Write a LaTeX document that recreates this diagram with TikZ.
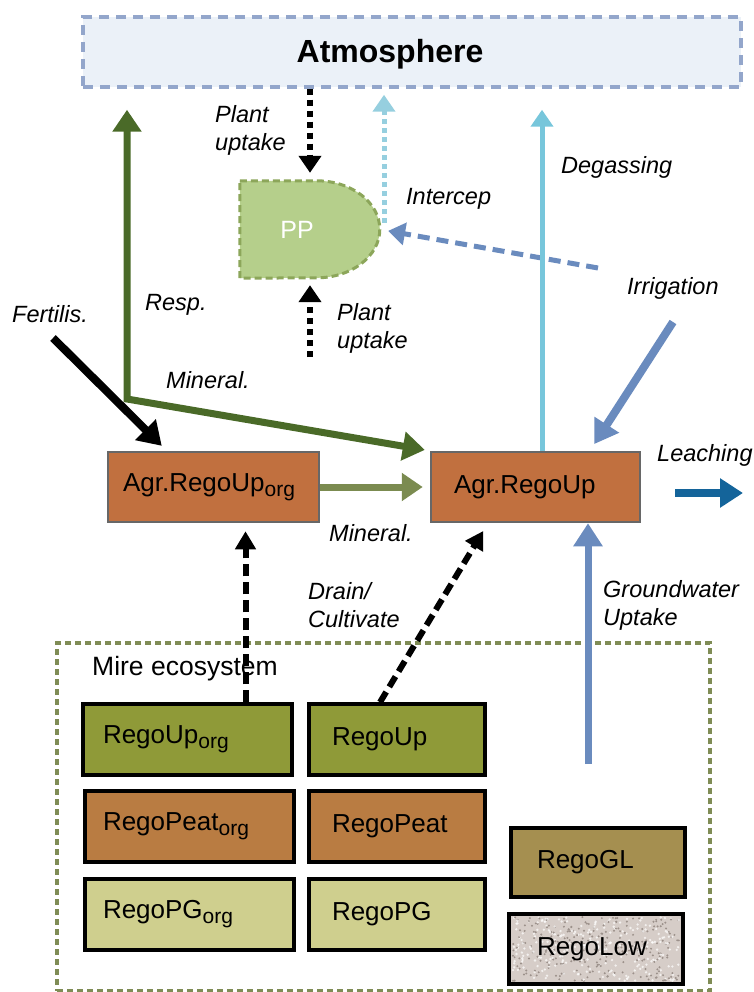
\documentclass[tikz,border=0pt]{standalone}
\usepackage{fontspec}
\setmainfont{Liberation Sans}
\usetikzlibrary{arrows.meta,positioning,calc,backgrounds}
\definecolor{rg-atmfill}{HTML}{EBF1F8}
\definecolor{rg-atmline}{HTML}{93A6CB}
\definecolor{rg-ppfill}{HTML}{B5CF8B}
\definecolor{rg-ppline}{HTML}{8CA65A}
\definecolor{rg-agr}{HTML}{C1703F}
\definecolor{rg-agrline}{HTML}{676767}
\definecolor{rg-dkgreen}{HTML}{4A6A28}
\definecolor{rg-olive}{HTML}{7B8B50}
\definecolor{rg-aqua}{HTML}{77C6DB}
\definecolor{rg-aqualt}{HTML}{96CFDF}
\definecolor{rg-steel}{HTML}{6A8BBE}
\definecolor{rg-leach}{HTML}{14649A}
\definecolor{rg-up}{HTML}{8F9A38}
\definecolor{rg-peat}{HTML}{B97C42}
\definecolor{rg-pg}{HTML}{CFCF8E}
\definecolor{rg-gl}{HTML}{A58F50}
\definecolor{rg-low}{HTML}{D6CDC8}
\definecolor{rg-speck}{HTML}{9C918B}
\definecolor{rg-mire}{HTML}{7F8C55}
\newcommand{\subidx}[1]{\raisebox{-5pt}{\fontsize{21}{21}\selectfont #1}}

\begin{document}
\begin{tikzpicture}[x=1pt,y=-1pt,
  lbl/.style={font=\fontsize{23.5}{28}\selectfont\itshape,align=left,inner sep=0pt,anchor=base west},
  reg/.style={draw=black,line width=3.5pt,minimum height=71pt,inner ysep=0pt,align=left,
              font=\fontsize{26}{30}\selectfont},
  agrbox/.style={draw=rg-agrline,fill=rg-agr,line width=2.5pt,minimum height=70pt,inner ysep=0pt,
              align=left,font=\fontsize{26}{30}\selectfont},
  bigtip/.style={-{Triangle[length=23pt,width=28pt]}},
  smalltip/.style={-{Triangle[length=17pt,width=22pt]}}]

\useasboundingbox (0,0) rectangle (753,992);

% ============ atmosphere and plants ============
\node[draw=rg-atmline,fill=rg-atmfill,line width=3.5pt,dash pattern=on 10pt off 7pt,
      minimum width=658pt,minimum height=70pt] (atm) at (412,52) {};
\node[font=\fontsize{32}{36}\selectfont\bfseries,inner sep=0pt,anchor=base] (atmtext) at (390,63) {Atmosphere};

\node[inner sep=0pt,minimum width=140pt,minimum height=97pt] (pp) at (310,229.5) {};
\draw[fill=rg-ppfill,draw=rg-ppline,line width=3pt,dash pattern=on 7pt off 4pt]
     (pp.north west) -- ++(77,0) arc[start angle=-90,end angle=90,x radius=63,y radius=48.5]
     -- (pp.south west) -- cycle;
\node[font=\fontsize{25}{25}\selectfont,text=white] (pptext) at (297,230) {PP};

% ============ agricultural soil ============
\node[agrbox,text width=181pt,inner xsep=15pt] (agrorg) at (213.5,487) {Agr.RegoUp\subidx{org}};
\node[agrbox,text width=163pt,inner xsep=23pt] (agr) at (535.5,487) {Agr.RegoUp};

% ============ mire ecosystem ============
\node[draw=rg-mire,line width=4pt,dash pattern=on 6pt off 4pt,
      minimum width=653pt,minimum height=348pt] (mire) at (383.5,817) {};
\node[font=\fontsize{26.5}{30}\selectfont,inner sep=0pt,anchor=base west] (miretext) at (92,675) {Mire ecosystem};

\node[reg,fill=rg-up,text width=169pt,inner xsep=20pt] (rupo) at (187.5,739.5) {RegoUp\subidx{org}};
\node[reg,fill=rg-up,text width=130pt,inner xsep=23pt] (rup) at (397,739.5) {RegoUp};
\node[reg,fill=rg-peat,text width=173pt,inner xsep=18pt] (rpeato) at (189.5,826.5) {RegoPeat\subidx{org}};
\node[reg,fill=rg-peat,text width=130pt,inner xsep=23pt] (rpeat) at (397,826.5) {RegoPeat};
\node[reg,fill=rg-pg,text width=173pt,inner xsep=18pt] (rpgo) at (189.5,914.5) {RegoPG\subidx{org}};
\node[reg,fill=rg-pg,text width=130pt,inner xsep=23pt] (rpg) at (397,914.5) {RegoPG};
\node[reg,fill=rg-gl,text width=122pt,inner xsep=26pt,minimum height=69pt] (rgl) at (598,862.5) {RegoGL};
\node[reg,text width=118pt,inner xsep=28pt,minimum height=70pt] (rlow) at (596,949) {RegoLow};

\begin{scope}[on background layer]
  \fill[rg-low] (rlow.south west) rectangle (rlow.north east);
  \pgfmathsetseed{11}
  \foreach \k in {1,...,260} {
    \fill[rg-speck] ({512+rnd*168},{917+rnd*64}) circle (1.1);
    \fill[white,opacity=0.7] ({512+rnd*168},{917+rnd*64}) circle (1.3);
  }
\end{scope}

% ============ fluxes ============
% plant uptake
\draw[smalltip,line width=6pt,dash pattern=on 6pt off 5pt,shorten >=8pt] (atm.south -| pp.north) -- (pp.north);
\coordinate (uptbot) at (310,357);
\draw[smalltip,line width=6pt,dash pattern=on 6pt off 5pt,shorten >=7pt] (uptbot) -- (pp.south);

% interception and irrigation
\coordinate (icp) at (384,223);
\draw[smalltip,rg-aqualt,line width=5pt,dash pattern=on 5pt off 4pt,shorten >=6pt] (icp) -- (icp |- atm.south);
\coordinate (irrdash) at (598,268);
\draw[smalltip,rg-steel,line width=5pt,dash pattern=on 12pt off 7pt,shorten >=8pt] (irrdash) -- (pp.east);
\coordinate (irrsrc) at (673,322);
\draw[bigtip,rg-steel,line width=8pt,shorten >=8pt] (irrsrc) -- ([xshift=54.5pt]agr.north);

% degassing
\coordinate (degbase) at ([xshift=6.5pt]agr.north);
\draw[smalltip,rg-aqua,line width=5pt,shorten >=21pt] (degbase) -- (degbase |- atm.south);

% respiration and mineralisation
\coordinate (split) at (127,399);
\draw[{Triangle[length=22pt,width=28pt]}-{Triangle[length=22pt,width=28pt]},rg-dkgreen,line width=7pt,
      shorten <=21pt,shorten >=5pt] (split |- atm.south) -- (split) -- (agr.north west);
\draw[-{Triangle[length=21pt,width=27pt]},rg-olive,line width=7pt,shorten >=7pt] (agrorg.east) -- (agr.west);

% fertilisation
\coordinate (fertsrc) at (53,338);
\draw[bigtip,line width=8pt,shorten >=7pt] (fertsrc) -- ([xshift=60pt]agrorg.north west);

% leaching and groundwater
\coordinate (leachA) at (675,493);
\coordinate (leachB) at (743,493);
\draw[bigtip,rg-leach,line width=8pt] (leachA) -- (leachB);
\coordinate (gwsrc) at (588,764);
\draw[bigtip,rg-steel,line width=7pt] (gwsrc) -- (gwsrc |- agr.south);

% drainage / cultivation
\coordinate (dr1) at ([xshift=58pt]rupo.north);
\draw[-{Triangle[length=18pt,width=20pt]},line width=6pt,dash pattern=on 12pt off 6pt,shorten >=8pt]
     (dr1) -- (dr1 |- agrorg.south);
\coordinate (dr2) at ([xshift=-17pt]rup.north);
\draw[-{Triangle[length=18pt,width=20pt]},line width=6pt,dash pattern=on 12pt off 6pt,shorten >=9pt]
     (dr2) -- ([xshift=-47.5pt]agr.south);

% ============ labels ============
\node[lbl] (lupt1) at (215,151) {Plant\\uptake};
\node[lbl] (lupt2) at (337,348) {Plant\\uptake};
\node[lbl] (licp) at (406,205) {Intercep};
\node[lbl] (ldeg) at (561,174) {Degassing};
\node[lbl] (lirr) at (627,294) {Irrigation};
\node[lbl] (lresp) at (145,310) {Resp.};
\node[lbl] (lfert) at (12,322) {Fertilis.};
\node[lbl] (lmin1) at (166,388) {Mineral.};
\node[lbl] (lmin2) at (329,541) {Mineral.};
\node[lbl] (lleach) at (657,461) {Leaching};
\node[lbl] (ldrain) at (308,627) {Drain/\\Cultivate};
\node[lbl] (lgw) at (603,625) {Groundwater\\Uptake};

\end{tikzpicture}
\end{document}
